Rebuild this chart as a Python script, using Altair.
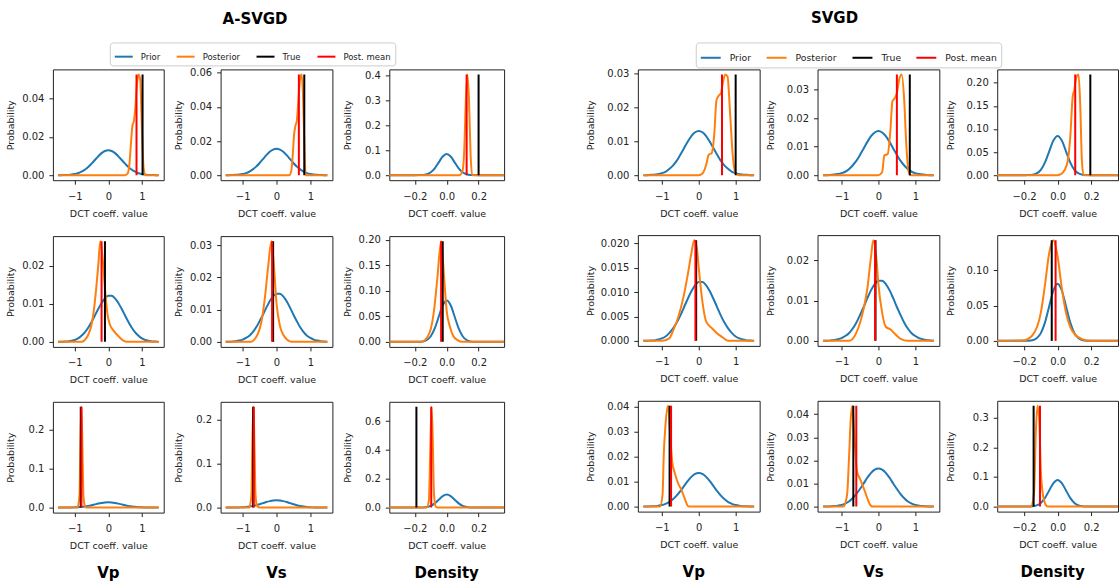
import altair as alt
import pandas as pd

# ---------------------------------------------------------------- data
METHODS = ["A-SVGD", "SVGD"]
PARAMS = ["Vp", "Vs", "Density"]
SERIES = ["Prior", "Posterior", "True", "Post. mean"]
SERIES_COLORS = ["#1f77b4", "#ff7f0e", "#000000", "#ff0000"]

# evaluation grids of the prior curves
x_vel = [-1.5, -1.4, -1.3, -1.2, -1.1, -1.0, -0.9, -0.8, -0.7, -0.6, -0.5, -0.4, -0.3, -0.2, -0.1, 0.0,
         0.1, 0.2, 0.3, 0.4, 0.5, 0.6, 0.7, 0.8, 0.9, 1.0, 1.1, 1.2, 1.3, 1.4, 1.5]
x_den = [-0.4, -0.375, -0.35, -0.325, -0.3, -0.275, -0.25, -0.225, -0.2, -0.175, -0.15, -0.125, -0.1,
         -0.075, -0.05, -0.025, 0.0, 0.025, 0.05, 0.075, 0.1, 0.125, 0.15, 0.175, 0.2, 0.225, 0.25,
         0.275, 0.3, 0.325, 0.35, 0.375, 0.4]

# prior probabilities (same prior for both methods), one list per DCT coefficient row
prior_vp_1 = [0, 0, 0.0001, 0.0001, 0.0003, 0.0006, 0.0010, 0.0018, 0.0028, 0.0042, 0.0060, 0.0079, 0.0098,
              0.0115, 0.0126, 0.0130, 0.0126, 0.0115, 0.0098, 0.0079, 0.0060, 0.0042, 0.0028, 0.0018,
              0.0010, 0.0006, 0.0003, 0.0001, 0.0001, 0, 0]
prior_vs_1 = [0, 0, 0.0001, 0.0002, 0.0004, 0.0007, 0.0012, 0.0021, 0.0034, 0.0050, 0.0071, 0.0094, 0.0117,
              0.0137, 0.0150, 0.0155, 0.0150, 0.0137, 0.0117, 0.0094, 0.0071, 0.0050, 0.0034, 0.0021,
              0.0012, 0.0007, 0.0004, 0.0002, 0.0001, 0, 0]
prior_den_1 = [0, 0, 0, 0, 0, 0, 0, 0, 0, 0.0002, 0.0009, 0.0037, 0.0115, 0.0276, 0.0516, 0.0750, 0.0850,
               0.0750, 0.0516, 0.0276, 0.0115, 0.0037, 0.0009, 0.0002, 0, 0, 0, 0, 0, 0, 0, 0, 0]
prior_vp_2 = [0, 0, 0.0001, 0.0001, 0.0003, 0.0005, 0.0009, 0.0016, 0.0025, 0.0037, 0.0052, 0.0069, 0.0086,
              0.0102, 0.0114, 0.0121, 0.0121, 0.0114, 0.0102, 0.0086, 0.0069, 0.0052, 0.0037, 0.0025,
              0.0016, 0.0009, 0.0005, 0.0003, 0.0001, 0.0001, 0]
prior_vs_2 = [0, 0, 0.0001, 0.0002, 0.0004, 0.0007, 0.0012, 0.0019, 0.0030, 0.0045, 0.0064, 0.0084, 0.0106,
              0.0126, 0.0141, 0.0149, 0.0149, 0.0141, 0.0126, 0.0106, 0.0084, 0.0064, 0.0045, 0.0030,
              0.0019, 0.0012, 0.0007, 0.0004, 0.0002, 0.0001, 0]
prior_den_2 = [0, 0, 0, 0, 0, 0, 0, 0, 0, 0.0002, 0.0009, 0.0036, 0.0110, 0.0263, 0.0491, 0.0715, 0.0810,
               0.0715, 0.0491, 0.0263, 0.0110, 0.0036, 0.0009, 0.0002, 0, 0, 0, 0, 0, 0, 0, 0, 0]
prior_vp_3 = [0, 0, 0.0001, 0.0001, 0.0003, 0.0006, 0.0011, 0.0018, 0.0029, 0.0044, 0.0062, 0.0082, 0.0102,
              0.0119, 0.0131, 0.0135, 0.0131, 0.0119, 0.0102, 0.0082, 0.0062, 0.0044, 0.0029, 0.0018,
              0.0011, 0.0006, 0.0003, 0.0001, 0.0001, 0, 0]
prior_vs_3 = [0, 0, 0.0001, 0.0002, 0.0004, 0.0007, 0.0013, 0.0022, 0.0036, 0.0054, 0.0076, 0.0100, 0.0125,
              0.0146, 0.0160, 0.0165, 0.0160, 0.0146, 0.0125, 0.0100, 0.0076, 0.0054, 0.0036, 0.0022,
              0.0013, 0.0007, 0.0004, 0.0002, 0.0001, 0, 0]
prior_den_3 = [0, 0, 0, 0, 0, 0, 0, 0, 0, 0.0002, 0.0010, 0.0040, 0.0122, 0.0292, 0.0546, 0.0794, 0.0900,
               0.0794, 0.0546, 0.0292, 0.0122, 0.0040, 0.0010, 0.0002, 0, 0, 0, 0, 0, 0, 0, 0, 0]

# posterior probabilities, A-SVGD
asvgd_vp1_x = [-1.5, 0.5, 0.58, 0.63, 0.68, 0.72, 0.76, 0.8, 0.85, 0.9, 0.95, 1.0, 1.05, 1.1, 1.5]
asvgd_vp1_p = [0, 0, 0.001, 0.006, 0.018, 0.026, 0.028, 0.034, 0.047, 0.0525, 0.05, 0.025, 0.004, 0, 0]
asvgd_vs1_x = [-1.5, 0.38, 0.44, 0.48, 0.52, 0.56, 0.6, 0.65, 0.7, 0.74, 0.78, 0.82, 0.86, 1.5]
asvgd_vs1_p = [0, 0, 0.003, 0.012, 0.024, 0.029, 0.032, 0.045, 0.057, 0.059, 0.048, 0.02, 0, 0]
asvgd_den1_x = [-0.4, 0.08, 0.1, 0.11, 0.12, 0.13, 0.14, 0.15, 0.16, 0.4]
asvgd_den1_p = [0, 0, 0.02, 0.1, 0.3, 0.405, 0.3, 0.08, 0, 0]
asvgd_vp2_x = [-1.5, -0.8, -0.7, -0.6, -0.5, -0.42, -0.35, -0.3, -0.24, -0.15, -0.08, -0.02, 0.05, 0.15,
               0.3, 0.45, 0.55, 1.5]
asvgd_vp2_p = [0, 0, 0.0005, 0.0018, 0.0045, 0.009, 0.015, 0.02, 0.0264, 0.02, 0.012, 0.007, 0.0045, 0.003,
               0.0015, 0.0003, 0, 0]
asvgd_vs2_x = [-1.5, -0.75, -0.65, -0.55, -0.45, -0.35, -0.25, -0.15, -0.08, 0.0, 0.1, 0.2, 0.3, 0.45, 1.5]
asvgd_vs2_p = [0, 0, 0.0008, 0.0025, 0.006, 0.013, 0.023, 0.0312, 0.024, 0.012, 0.005, 0.0022, 0.0008, 0, 0]
asvgd_den2_x = [-0.4, -0.16, -0.12, -0.1, -0.08, -0.06, -0.035, -0.015, 0.0, 0.02, 0.04, 0.07, 0.1, 0.4]
asvgd_den2_p = [0, 0, 0.01, 0.025, 0.06, 0.12, 0.197, 0.12, 0.06, 0.03, 0.012, 0.003, 0, 0]
asvgd_vp3_x = [-1.5, -0.92, -0.86, -0.83, -0.8, -0.77, -0.74, -0.7, -0.65, 1.5]
asvgd_vp3_p = [0, 0, 0.03, 0.17, 0.259, 0.15, 0.03, 0.005, 0, 0]
asvgd_vs3_x = [-1.5, -0.8, -0.74, -0.71, -0.68, -0.65, -0.62, -0.58, -0.5, 1.5]
asvgd_vs3_p = [0, 0, 0.03, 0.16, 0.229, 0.14, 0.03, 0.005, 0, 0]
asvgd_den3_x = [-0.4, -0.125, -0.112, -0.103, -0.095, -0.088, -0.08, -0.07, -0.06, 0.4]
asvgd_den3_p = [0, 0, 0.05, 0.4, 0.70, 0.5, 0.1, 0.01, 0, 0]

# posterior probabilities, SVGD
svgd_vp1_x = [-1.5, 0.0, 0.1, 0.2, 0.27, 0.35, 0.42, 0.48, 0.55, 0.6, 0.65, 0.72, 0.78, 0.85, 0.92, 1.0,
              1.1, 1.5]
svgd_vp1_p = [0, 0, 0.0005, 0.003, 0.006, 0.0065, 0.012, 0.022, 0.0235, 0.024, 0.027, 0.0296, 0.029, 0.018,
              0.006, 0.0005, 0, 0]
svgd_vs1_x = [-1.5, 0.0, 0.1, 0.16, 0.25, 0.32, 0.38, 0.44, 0.5, 0.57, 0.63, 0.7, 0.75, 0.8, 0.86, 1.5]
svgd_vs1_p = [0, 0, 0.001, 0.007, 0.0074, 0.015, 0.026, 0.027, 0.029, 0.034, 0.0354, 0.026, 0.012, 0.003, 0, 0]
svgd_den1_x = [-0.4, 0.0, 0.02, 0.04, 0.06, 0.075, 0.09, 0.1, 0.11, 0.125, 0.135, 0.145, 0.155, 0.4]
svgd_den1_p = [0, 0, 0.002, 0.01, 0.03, 0.08, 0.17, 0.185, 0.21, 0.218, 0.15, 0.03, 0, 0]
svgd_vp2_x = [-1.5, -1.0, -0.8, -0.7, -0.55, -0.4, -0.3, -0.2, -0.12, -0.05, 0.0, 0.1, 0.2, 0.37, 0.5,
              0.65, 0.8, 1.5]
svgd_vp2_p = [0, 0, 0.0005, 0.002, 0.005, 0.0095, 0.0135, 0.018, 0.0207, 0.019, 0.015, 0.008, 0.004, 0.0025,
              0.0015, 0.0007, 0, 0]
svgd_vs2_x = [-1.5, -0.8, -0.6, -0.4, -0.3, -0.2, -0.14, -0.05, 0.0, 0.1, 0.2, 0.33, 0.45, 0.6, 0.8, 1.5]
svgd_vs2_p = [0, 0, 0.002, 0.008, 0.013, 0.021, 0.025, 0.02, 0.014, 0.007, 0.0035, 0.0028, 0.0017, 0.0005,
              0, 0]
svgd_den2_x = [-0.4, -0.2, -0.15, -0.1, -0.075, -0.05, -0.025, 0.0, 0.025, 0.05, 0.075, 0.1, 0.15, 0.2, 0.4]
svgd_den2_p = [0, 0.001, 0.008, 0.04, 0.08, 0.125, 0.143, 0.12, 0.075, 0.04, 0.02, 0.01, 0.002, 0, 0]
svgd_vp3_x = [-1.5, -1.05, -0.98, -0.95, -0.9, -0.83, -0.78, -0.72, -0.65, -0.55, -0.48, -0.4, -0.35, -0.3,
              -0.25, 1.5]
svgd_vp3_p = [0, 0, 0.005, 0.02, 0.033, 0.0404, 0.03, 0.018, 0.0135, 0.009, 0.007, 0.004, 0.002, 0.0003,
              0, 0]
svgd_vs3_x = [-1.5, -0.95, -0.85, -0.8, -0.75, -0.71, -0.65, -0.58, -0.5, -0.4, -0.3, -0.25, -0.2, -0.15,
              1.5]
svgd_vs3_p = [0, 0, 0.005, 0.02, 0.038, 0.0436, 0.03, 0.0152, 0.012, 0.008, 0.0036, 0.0015, 0.0003, 0, 0]
svgd_den3_x = [-0.4, -0.16, -0.14, -0.13, -0.12, -0.11, -0.1, -0.09, -0.08, -0.07, -0.06, 0.4]
svgd_den3_p = [0, 0, 0.05, 0.25, 0.34, 0.3, 0.12, 0.05, 0.02, 0.005, 0, 0]

# true coefficient and posterior mean, rows x [Vp, Vs, Density]
asvgd_true = [[1.02, 0.82, 0.2], [-0.1, -0.1, -0.025], [-0.82, -0.69, -0.19]]
asvgd_mean = [[0.84, 0.66, 0.125], [-0.2, -0.13, -0.035], [-0.8, -0.67, -0.097]]
svgd_true = [[1.0, 0.85, 0.195], [-0.07, -0.08, -0.035], [-0.79, -0.68, -0.143]]
svgd_mean = [[0.63, 0.5, 0.105], [-0.09, -0.09, -0.012], [-0.75, -0.6, -0.105]]

# y tick values and label formats
asvgd_yticks = [[[0, 0.02, 0.04], [0, 0.02, 0.04, 0.06], [0, 0.1, 0.2, 0.3, 0.4]],
                [[0, 0.01, 0.02], [0, 0.01, 0.02, 0.03], [0, 0.05, 0.1, 0.15, 0.2]],
                [[0, 0.1, 0.2], [0, 0.1, 0.2], [0, 0.2, 0.4, 0.6]]]
asvgd_yfmt = [[".2f", ".2f", ".1f"], [".2f", ".2f", ".2f"], [".1f", ".1f", ".1f"]]
svgd_yticks = [[[0, 0.01, 0.02, 0.03], [0, 0.01, 0.02, 0.03], [0, 0.05, 0.1, 0.15, 0.2]],
               [[0, 0.005, 0.01, 0.015, 0.02], [0, 0.01, 0.02], [0, 0.05, 0.1]],
               [[0, 0.01, 0.02, 0.03, 0.04], [0, 0.01, 0.02, 0.03, 0.04], [0, 0.1, 0.2, 0.3]]]
svgd_yfmt = [[".2f", ".2f", ".2f"], [".3f", ".2f", ".2f"], [".2f", ".2f", ".1f"]]

x_ticks_vel = [-1, 0, 1]
x_ticks_den = [-0.2, 0.0, 0.2]

# ---------------------------------------------------------------- lookup tables
PRIORS = [[prior_vp_1, prior_vs_1, prior_den_1],
          [prior_vp_2, prior_vs_2, prior_den_2],
          [prior_vp_3, prior_vs_3, prior_den_3]]
POSTERIORS = {
    "A-SVGD": [[(asvgd_vp1_x, asvgd_vp1_p), (asvgd_vs1_x, asvgd_vs1_p), (asvgd_den1_x, asvgd_den1_p)],
               [(asvgd_vp2_x, asvgd_vp2_p), (asvgd_vs2_x, asvgd_vs2_p), (asvgd_den2_x, asvgd_den2_p)],
               [(asvgd_vp3_x, asvgd_vp3_p), (asvgd_vs3_x, asvgd_vs3_p), (asvgd_den3_x, asvgd_den3_p)]],
    "SVGD": [[(svgd_vp1_x, svgd_vp1_p), (svgd_vs1_x, svgd_vs1_p), (svgd_den1_x, svgd_den1_p)],
             [(svgd_vp2_x, svgd_vp2_p), (svgd_vs2_x, svgd_vs2_p), (svgd_den2_x, svgd_den2_p)],
             [(svgd_vp3_x, svgd_vp3_p), (svgd_vs3_x, svgd_vs3_p), (svgd_den3_x, svgd_den3_p)]],
}
TRUE_VALUES = {"A-SVGD": asvgd_true, "SVGD": svgd_true}
MEAN_VALUES = {"A-SVGD": asvgd_mean, "SVGD": svgd_mean}
Y_TICKS = {"A-SVGD": asvgd_yticks, "SVGD": svgd_yticks}
Y_FORMATS = {"A-SVGD": asvgd_yfmt, "SVGD": svgd_yfmt}

# ---------------------------------------------------------------- layout
FONT = "DejaVu Sans"
PANEL_H = 111
ROW_GAP = 16      # between the x-axis title of a row and the next row
GROUP_GAP = 80    # between the two method groups (outside the axes)

# the A-SVGD block is a little narrower than the SVGD block
GROUP_STYLE = {
    "A-SVGD": dict(widths=[111, 112, 115], col_gap=57, y_extent=32, title_dx=147, label_dx=0,
                   legend=dict(legendX=-111, labelFontSize=8.5, symbolSize=324, labelOffset=7,
                               columnPadding=12)),
    "SVGD": dict(widths=[122, 122, 121], col_gap=58, y_extent=37, title_dx=136, label_dx=-5,
                 legend=dict(legendX=-122, labelFontSize=9.3, symbolSize=400, labelOffset=8,
                             columnPadding=11)),
}

LEGEND_BASE = dict(orient="none", legendY=-27, direction="horizontal", title=None,
                   symbolType="stroke", symbolStrokeWidth=2, labelFont=FONT, labelColor="#222",
                   padding=4, strokeColor="#cccccc", fillColor="white", cornerRadius=3)


def panel(method, row, col):
    style = GROUP_STYLE[method]
    dens = PARAMS[col] == "Density"
    grid = x_den if dens else x_vel
    prior = PRIORS[row][col]
    post_x, post_p = POSTERIORS[method][row][col]
    top = max(post_p)
    ymax = max(top, max(prior))

    x_scale = alt.Scale(domain=[-0.36, 0.36] if dens else [-1.65, 1.65], nice=False, zero=False)
    y_scale = alt.Scale(domain=[-0.05 * ymax, 1.05 * ymax], nice=False, zero=False)
    x_axis = alt.Axis(values=x_ticks_den if dens else x_ticks_vel, format=".1f" if dens else "d",
                      title="DCT coeff. value")
    y_axis = alt.Axis(values=Y_TICKS[method][row][col], format=Y_FORMATS[method][row][col],
                      title="Probability", minExtent=style["y_extent"], maxExtent=style["y_extent"])
    legend = alt.Legend(**LEGEND_BASE, **style["legend"]) if (row == 0 and col == 1) else None
    color = alt.Color("series:N", scale=alt.Scale(domain=SERIES, range=SERIES_COLORS), legend=legend)

    prior_df = pd.DataFrame({"x": grid, "p": prior, "series": "Prior"})
    post_df = pd.DataFrame({"x": post_x, "p": post_p, "series": "Posterior"})
    rule_df = pd.DataFrame({"x": [TRUE_VALUES[method][row][col], MEAN_VALUES[method][row][col]],
                            "y0": [0, 0], "y1": [top, top], "series": ["True", "Post. mean"]})

    def curve(df):
        return alt.Chart(df).mark_line(strokeWidth=2, interpolate="monotone", clip=True).encode(
            x=alt.X("x:Q", scale=x_scale, axis=x_axis),
            y=alt.Y("p:Q", scale=y_scale, axis=y_axis),
            color=color,
        )

    rules = alt.Chart(rule_df).mark_rule(strokeWidth=2, clip=True).encode(
        x=alt.X("x:Q", scale=x_scale, axis=x_axis),
        y=alt.Y("y0:Q", scale=y_scale, axis=y_axis),
        y2="y1:Q",
        color=color,
    )

    chart = alt.layer(curve(prior_df), curve(post_df), rules).properties(
        width=style["widths"][col], height=PANEL_H)
    if row == 0 and col == 0:
        chart = chart.properties(title=alt.TitleParams(
            text=method, anchor="middle", frame="group", dx=style["title_dx"], offset=42,
            fontSize=15, font=FONT, fontWeight="bold", color="black"))
    if row == 2:
        chart = chart.properties(title=alt.TitleParams(
            text=PARAMS[col], orient="bottom", anchor="middle", frame="group", dx=style["label_dx"],
            offset=16, fontSize=15, font=FONT, fontWeight="bold", color="black"))
    return chart


def group(method):
    rows = [
        alt.hconcat(*[panel(method, r, c) for c in range(3)], spacing=GROUP_STYLE[method]["col_gap"],
                    bounds="flush")
        .resolve_scale(color="independent")
        for r in range(3)
    ]
    return alt.vconcat(*rows, spacing=ROW_GAP).resolve_scale(color="independent")


chart = (
    alt.hconcat(group("A-SVGD"), group("SVGD"), spacing=GROUP_GAP)
    .resolve_scale(color="independent")
    .properties(padding={"left": 5, "top": 10, "right": 0, "bottom": 0})
    .configure(font=FONT, background="white")
    .configure_view(stroke="#222", strokeWidth=1)
    .configure_axis(domain=False, grid=False, tickColor="#222", tickSize=4, tickWidth=1,
                    labelColor="#222", labelFont=FONT, labelFontSize=10,
                    labelFlush=False, labelOverlap=False, titleColor="#222", titleFont=FONT,
                    titleFontSize=9.5, titleFontWeight="normal", titlePadding=5)
    .configure_axisY(labelPadding=5)
    .configure_axisX(minExtent=23, maxExtent=23, labelPadding=7)
)

chart.save("out.html", embed_options={"renderer": "svg", "actions": False})
